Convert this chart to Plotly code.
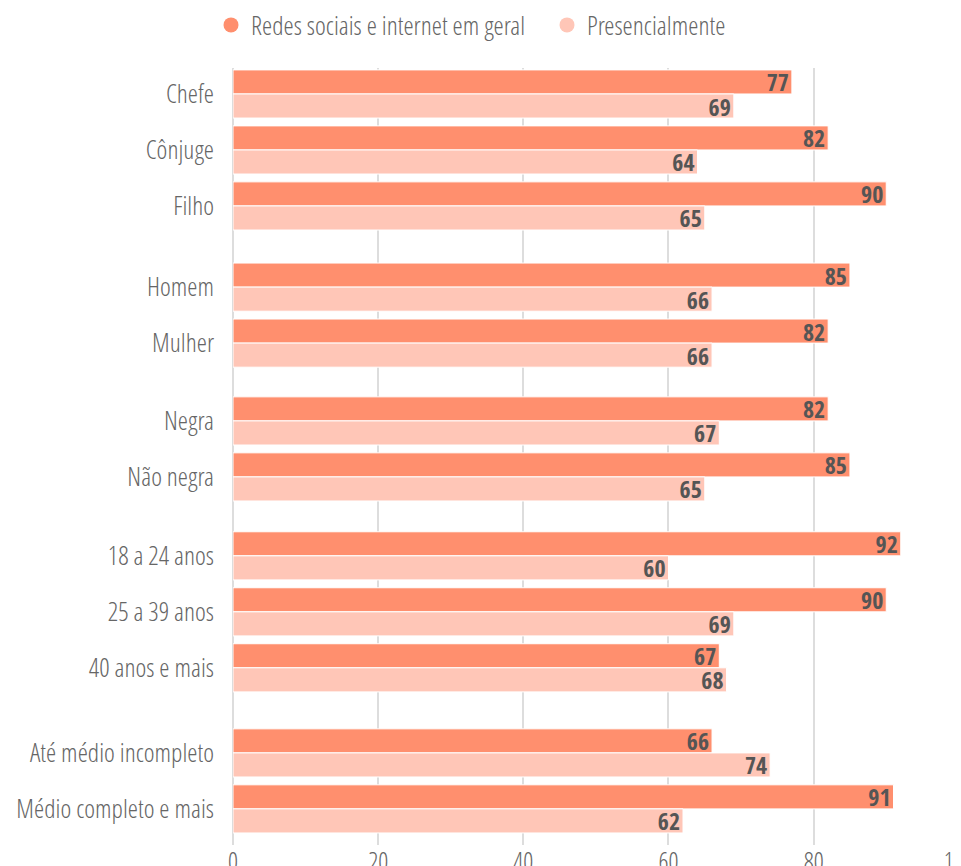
import plotly.graph_objects as go

# ---- data ----
groups = [
    ["Chefe", "Cônjuge", "Filho"],
    ["Homem", "Mulher"],
    ["Negra", "Não negra"],
    ["18 a 24 anos", "25 a 39 anos", "40 anos e mais"],
    ["Até médio incompleto", "Médio completo e mais"],
]
redes = [77, 82, 90, 85, 82, 82, 85, 92, 90, 67, 66, 91]
presencial = [69, 64, 65, 66, 66, 67, 65, 60, 69, 68, 74, 62]
series_names = ["Redes sociais e internet em geral", "Presencialmente"]
x_ticks = [0, 20, 40, 60, 80, 100]

# ---- layout helpers (spacing between groups, in category units) ----
GROUP_GAPS = [0.45, 0.39, 0.41, 0.52]
categories, ypos = [], []
pos = 0.0
for gi, g in enumerate(groups):
    if gi > 0:
        pos += GROUP_GAPS[gi - 1]
    for c in g:
        categories.append(c)
        ypos.append(pos)
        pos += 1
last = ypos[-1]

FONT = "Open Sans Condensed Light, Roboto Condensed, sans-serif"
BOLD = "Open Sans Condensed, Roboto Condensed, sans-serif"
colors = ["#FF8F6E", "#FFC6B7"]
TXT = "#555555"
LBL = "#666666"

fig = go.Figure()
for name, vals, col in zip(series_names, [redes, presencial], colors):
    fig.add_trace(go.Bar(
        y=ypos, x=vals, orientation="h", name=name,
        marker=dict(color=col, line=dict(color="white", width=1)),
        text=[str(v) for v in vals], textposition="inside",
        insidetextanchor="end", textangle=0,
        textfont=dict(family=BOLD, size=24, color=TXT, weight="bold"),
        showlegend=False, hoverinfo="skip",
    ))
for name, col in zip(series_names, colors):
    fig.add_trace(go.Scatter(
        x=[None], y=[None], mode="markers", name=name,
        marker=dict(symbol="circle", size=15, color=col),
    ))

W, H = 953, 858
fig.update_layout(
    width=W, height=H,
    margin=dict(l=225, r=0, t=60, b=21),
    paper_bgcolor="white", plot_bgcolor="white",
    barmode="group", bargap=0.14, bargroupgap=0,
    uniformtext=dict(minsize=24, mode="show"),
    font=dict(family=FONT, color=LBL, size=25),
    legend=dict(
        orientation="h", xref="container", yref="container",
        x=(223 - 20) / W, xanchor="left", y=1 - 17 / H, yanchor="middle",
        font=dict(family=FONT, size=26, color=LBL),
        itemwidth=30, tracegroupgap=0, entrywidth=291,
    ),
    xaxis=dict(
        range=[0, 100.3], tickvals=x_ticks, ticktext=[str(t) for t in x_ticks],
        showgrid=True, gridcolor="#dddddd", gridwidth=2,
        zeroline=True, zerolinecolor="#dddddd", zerolinewidth=2,
        showline=False, ticks="", tickfont=dict(family=FONT, size=25, color=LBL),
        ticklabeloverflow="allow",
        automargin=False, fixedrange=True,
    ),
    yaxis=dict(
        range=[last + 0.645, -0.464], tickvals=ypos, ticktext=categories,
        showgrid=False, zeroline=False, showline=False, ticks="",
        ticklabelstandoff=18, tickfont=dict(family=FONT, size=26, color=LBL),
        automargin=False, fixedrange=True,
    ),
)

fig.write_html("out.html")
